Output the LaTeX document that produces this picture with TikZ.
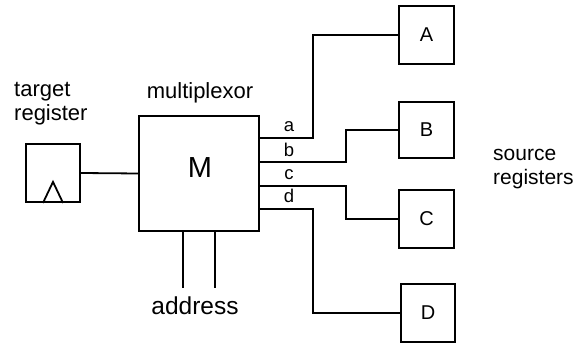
\documentclass[tikz,border=0pt]{standalone}
\usepackage{fontspec}
\setmainfont{Liberation Sans}
\begin{document}
\begin{tikzpicture}[x=1pt,y=-1pt,
  wire/.style={line width=1.8pt},
  regbox/.style={draw,line width=1.8pt,inner sep=0pt,minimum width=55pt,minimum height=57pt,font=\fontsize{20}{22}\selectfont},
  lbl/.style={inner sep=0pt,font=\fontsize{21}{24}\selectfont},
  small/.style={inner sep=0pt,font=\fontsize{18.5}{20}\selectfont,anchor=base}]
\useasboundingbox (0,0) rectangle (576,347);
% multiplexor
\node[draw,line width=1.8pt,minimum width=120pt,minimum height=115pt,inner sep=0pt] (mux) at (199,173.5) {};
\node[inner sep=0pt,anchor=base,font=\fontsize{29}{30}\selectfont] (M) at (200,178) {M};
\node[lbl,anchor=base,font=\fontsize{22}{24}\selectfont] (mlab) at (200,99) {multiplexor};
% target register
\node[draw,line width=1.8pt,minimum width=54pt,minimum height=58pt,inner sep=0pt] (reg) at (53,173) {};
\draw[wire,line join=miter] ([xshift=-10pt]reg.south) -- ([yshift=21pt]reg.south) -- ([xshift=10pt]reg.south);
\node[lbl,anchor=base west,font=\fontsize{22}{24}\selectfont] (tlab) at (14,97) {target};
\node[lbl,anchor=base west,font=\fontsize{22}{24}\selectfont] (tlab2) at (14,121) {register};
\draw[wire] (reg.east) -- (mux.west);
% address
\coordinate (ad1) at (183,288);
\coordinate (ad2) at (215,288);
\draw[wire] (mux.south -| ad1) -- (ad1);
\draw[wire] (mux.south -| ad2) -- (ad2);
\node[lbl,anchor=base,font=\fontsize{24.5}{26}\selectfont] (addr) at (195,315) {address};
% source registers
\node[regbox,minimum height=58pt] (A) at (426.5,35) {A};
\node[regbox,minimum height=56pt] (B) at (426.5,130) {B};
\node[regbox,minimum height=58pt] (C) at (426.5,219) {C};
\node[regbox,minimum height=58pt,minimum width=54pt] (D) at (428,313) {D};
\node[lbl,anchor=base west] (s1) at (493,161) {source};
\node[lbl,anchor=base west] (s2) at (493,185) {registers};
% wires a-d
\coordinate (pa) at (259,138);
\coordinate (pb) at (259,162);
\coordinate (pc) at (259,186);
\coordinate (pd) at (259,209);
\coordinate (ka) at (313,0);
\coordinate (kb) at (346,0);
\coordinate (kc) at (346,0);
\coordinate (kd) at (313,0);
\draw[wire] (pa) -- (pa -| ka) -- (A.west -| ka) -- (A.west);
\draw[wire] (pb) -- (pb -| kb) -- (B.west -| kb) -- (B.west);
\draw[wire] (pc) -- (pc -| kc) -- (C.west -| kc) -- (C.west);
\draw[wire] (pd) -- (pd -| kd) -- (D.west -| kd) -- (D.west);
\node[small] (la) at (289,132) {a};
\node[small] (lb) at (289,157) {b};
\node[small] (lc) at (289,180) {c};
\node[small] (ld) at (289,203) {d};
\end{tikzpicture}
\end{document}
